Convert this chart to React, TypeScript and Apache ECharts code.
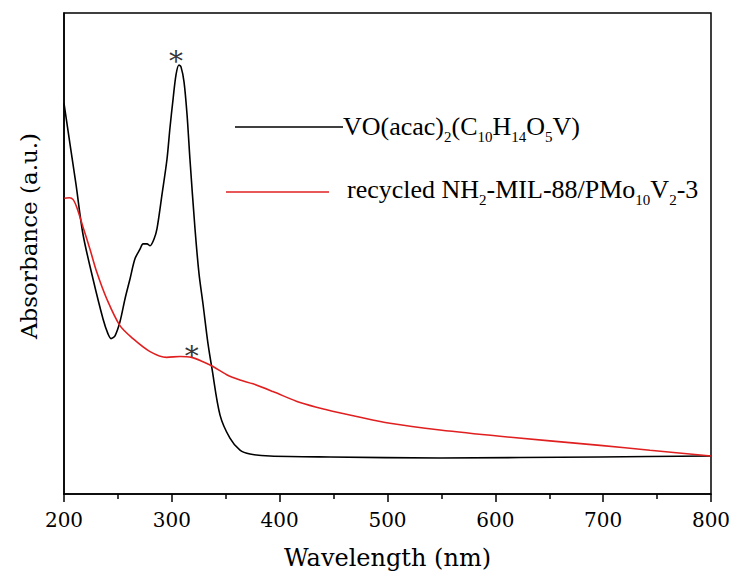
import React, { useEffect, useRef } from "react";
import * as echarts from "echarts";

// Wavelength (nm) and absorbance (a.u.)
const blackWavelength = [200, 205.6, 211.1, 217.6, 226.9, 236.2, 240.8, 243.6, 247.3, 251.9, 256.6, 261.2, 265.8, 270.5, 273.3, 277.0, 279.8, 283.5, 286.2, 290.9, 295.5, 298.3, 301.1, 303.9, 306.6, 308.5, 311.3, 314.1, 316.8, 321.5, 325.2, 328.9, 333.5, 337.2, 344.7, 353.9, 363.2, 372.5, 391.0, 446.7, 548.7, 697.1, 800];
const blackAbsorbance = [0.812, 0.727, 0.644, 0.540, 0.447, 0.364, 0.333, 0.323, 0.329, 0.358, 0.406, 0.447, 0.489, 0.509, 0.520, 0.520, 0.516, 0.530, 0.551, 0.623, 0.696, 0.762, 0.820, 0.872, 0.892, 0.888, 0.857, 0.789, 0.696, 0.551, 0.458, 0.395, 0.313, 0.261, 0.164, 0.116, 0.091, 0.083, 0.079, 0.077, 0.075, 0.077, 0.079];

const redWavelength = [200.3, 205.0, 208.5, 212.0, 217.9, 224.1, 230.3, 239.6, 251.9, 264.0, 279.8, 295.2, 307.6, 318.4, 328.9, 338.2, 350.9, 363.2, 375.3, 393.8, 418.9, 443.6, 471.4, 502.3, 548.7, 604.3, 697.1, 743.4, 800];
const redAbsorbance = [0.615, 0.616, 0.612, 0.595, 0.553, 0.509, 0.462, 0.406, 0.350, 0.323, 0.296, 0.284, 0.286, 0.284, 0.275, 0.265, 0.248, 0.237, 0.229, 0.213, 0.190, 0.175, 0.161, 0.147, 0.133, 0.120, 0.101, 0.091, 0.079];

// Peak markers (asterisks)
const markWavelength = [303.9, 318.4];
const markAbsorbance = [0.909, 0.296];

const xTicks = [200, 300, 400, 500, 600, 700, 800];

const FONT = "Liberation Serif";
const AXIS_FONT = "DejaVu Serif";

export default function App() {
  const ref = useRef<HTMLDivElement>(null);
  useEffect(() => {
    if (!ref.current) return;
    const chart = echarts.init(ref.current, null, { renderer: "svg" });
    const zip = (xs: number[], ys: number[]) => xs.map((x, i) => [x, ys[i]]);
    const main = { fontSize: 26, fontFamily: FONT, color: "#000", lineHeight: 36, verticalAlign: "middle" };
    const sub = { fontSize: 15, fontFamily: FONT, color: "#000", lineHeight: 15, verticalAlign: "bottom" };
    chart.setOption({
      animation: false,
      backgroundColor: "#fff",
      grid: { left: 64, right: 24, top: 13, bottom: 79, show: true, borderColor: "#000", borderWidth: 1.5, backgroundColor: "transparent" },
      xAxis: {
        type: "value",
        min: xTicks[0],
        max: xTicks[xTicks.length - 1],
        interval: 100,
        axisLine: { show: true, onZero: false, lineStyle: { color: "#000", width: 1.5 } },
        axisTick: { show: true, inside: false, length: 8, lineStyle: { color: "#000", width: 1.5 } },
        minorTick: { show: true, splitNumber: 2, length: 5, lineStyle: { color: "#000", width: 1.5 } },
        splitLine: { show: false },
        axisLabel: { margin: 16, fontFamily: AXIS_FONT, fontSize: 20, color: "#000" },
        name: "Wavelength (nm)",
        nameLocation: "middle",
        nameGap: 52,
        nameTextStyle: { fontFamily: AXIS_FONT, fontSize: 24, color: "#000" },
      },
      yAxis: {
        type: "value",
        min: 0,
        max: 1,
        axisLine: { show: true, lineStyle: { color: "#000", width: 1.5 } },
        axisTick: { show: false },
        axisLabel: { show: false },
        splitLine: { show: false },
      },
      series: [
        {
          type: "line",
          name: "VO(acac)2",
          data: zip(blackWavelength, blackAbsorbance),
          showSymbol: false,
          smooth: 0.3,
          lineStyle: { color: "#000", width: 1.6 },
          itemStyle: { color: "#000" },
        },
        {
          type: "line",
          name: "recycled",
          data: zip(redWavelength, redAbsorbance),
          showSymbol: false,
          smooth: 0.3,
          lineStyle: { color: "#e02020", width: 1.6 },
          itemStyle: { color: "#e02020" },
        },
        {
          type: "scatter",
          data: zip(markWavelength, markAbsorbance),
          symbolSize: 0,
          label: {
            show: true,
            position: "inside",
            formatter: "*",
            fontFamily: AXIS_FONT,
            fontSize: 28,
            color: "#000",
            offset: [0, 5],
          },
        },
      ],
      graphic: [
        { type: "line", shape: { x1: 235, y1: 127, x2: 343, y2: 127 }, style: { stroke: "#000", lineWidth: 1.6 } },
        {
          type: "text",
          x: 343,
          y: 126,
          style: {
            text: "{a|VO(acac)}{s|2}{a|(C}{s|10}{a|H}{s|14}{a|O}{s|5}{a|V)}",
            rich: { a: main, s: sub },
            verticalAlign: "middle",
            align: "left",
          },
        },
        { type: "line", shape: { x1: 226, y1: 192, x2: 329, y2: 192 }, style: { stroke: "#e02020", lineWidth: 1.6 } },
        {
          type: "text",
          x: 347,
          y: 189,
          style: {
            text: "{a|recycled NH}{s|2}{a|-MIL-88/PMo}{s|10}{a|V}{s|2}{a|-3}",
            rich: { a: main, s: sub },
            verticalAlign: "middle",
            align: "left",
          },
        },
        {
          type: "text",
          x: 29,
          y: 236,
          rotation: Math.PI / 2,
          style: {
            text: "Absorbance (a.u.)",
            fontFamily: AXIS_FONT,
            fontSize: 23,
            fill: "#000",
            align: "center",
            verticalAlign: "middle",
          },
        },
      ],
    });
    return () => chart.dispose();
  }, []);
  return <div ref={ref} style={{ width: 735, height: 575, position: "absolute", left: 0, top: 0 }} />;
}
